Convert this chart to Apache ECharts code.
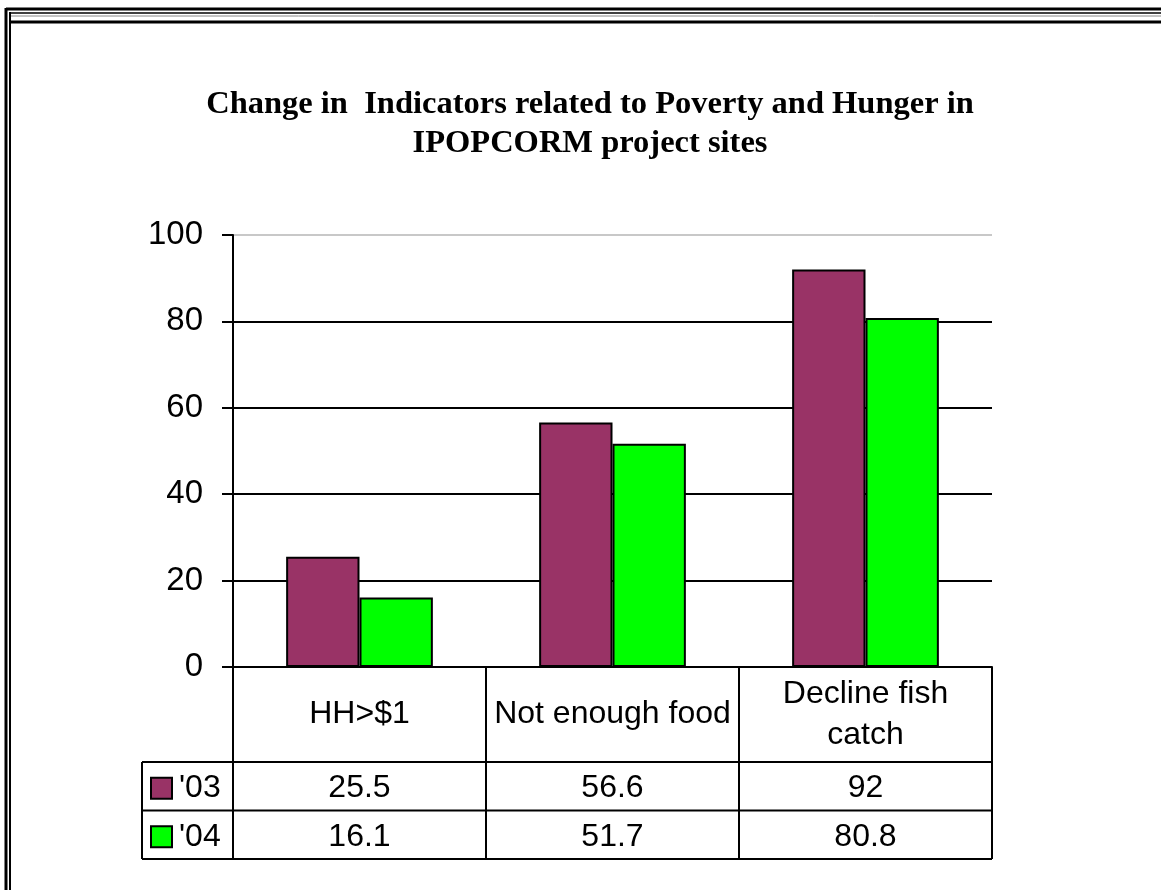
<!DOCTYPE html>
<html>
<head>
<meta charset="utf-8">
<script src="https://cdn.jsdelivr.net/npm/echarts@6/dist/echarts.min.js"></script>
<style>
html, body { margin: 0; padding: 0; background: #fff; }
#chart { width: 1161px; height: 890px; }
</style>
</head>
<body>
<div id="chart"></div>
<script>
// data
const categories = ['HH>$1', 'Not enough food', 'Decline fish\ncatch'];
const seriesNames = ["'03", "'04"];
const values03 = [25.5, 56.6, 92];
const values04 = [16.1, 51.7, 80.8];
const seriesColors = ['#993366', '#00ff00'];
const titleText = 'Change in  Indicators related to Poverty and Hunger in\nIPOPCORM project sites';

// layout
const gridLeft = 233, gridRight = 992, gridTop = 235, axisY = 667;
const headBottom = 762, rowH = 48.5, tableLeft = 142;
const sansFont = '"Liberation Sans", Arial, sans-serif';

const chart = echarts.init(document.getElementById('chart'));

const option = {
    backgroundColor: '#fff',
    animation: false,
    title: {
        text: titleText,
        left: 585,
        top: 80,
        textAlign: 'center',
        textStyle: {
            fontFamily: '"Liberation Serif", "Times New Roman", serif',
            fontWeight: 'bold',
            fontSize: 32.5,
            lineHeight: 39,
            color: '#000',
        },
    },
    grid: {
        left: gridLeft,
        right: 1161 - gridRight,
        top: gridTop,
        bottom: 890 - axisY,
        containLabel: false,
    },
    xAxis: {
        type: 'category',
        data: categories,
        axisLine: { lineStyle: { color: '#000', width: 2 } },
        axisTick: { show: true, length: 192, lineStyle: { color: '#000', width: 2 } },
        axisLabel: { show: false },
    },
    yAxis: {
        type: 'value',
        min: 0,
        max: 100,
        interval: 20,
        axisLine: { show: true, lineStyle: { color: '#000', width: 2 } },
        axisTick: { show: true, length: 11, lineStyle: { color: '#000', width: 2 } },
        axisLabel: { color: '#000', fontSize: 33, fontFamily: sansFont, margin: 30 },
        splitLine: {
            show: true,
            lineStyle: {
                color: ['#000', '#000', '#000', '#000', '#000', '#c8c8c8'],
                width: 2,
            },
        },
    },
    series: [
        {
            name: seriesNames[0],
            type: 'bar',
            data: values03,
            barGap: '0%',
            barCategoryGap: '42%',
            itemStyle: { color: seriesColors[0], borderColor: '#000', borderWidth: 2 },
        },
        {
            name: seriesNames[1],
            type: 'bar',
            data: values04,
            itemStyle: { color: seriesColors[1], borderColor: '#000', borderWidth: 2 },
        },
    ],
};

chart.setOption(option);

// data table + frame drawn as graphic, positioned from the category axis
function buildGraphic() {
    const els = [];
    const line = (x1, y1, x2, y2, w, c) => els.push({
        type: 'line',
        shape: { x1, y1, x2, y2 },
        style: { stroke: c || '#000', lineWidth: w },
        silent: true,
    });
    const text = (x, y, t, align) => els.push({
        type: 'text',
        x, y,
        style: {
            text: t,
            font: '32px ' + sansFont,
            fill: '#000',
            align: align || 'center',
            textAlign: align || 'center',
            verticalAlign: 'middle',
            textVerticalAlign: 'middle',
            lineHeight: 41,
        },
        silent: true,
    });

    // frame
    line(6, 9, 1161, 9, 3);
    line(6, 8, 6, 890, 3);
    line(10, 13, 1161, 13, 1.5);
    line(10, 12, 10, 890, 2);
    line(11, 16, 1161, 16, 1, '#888');
    line(11, 22, 1161, 22, 3);

    // table horizontal rules
    const rows = [values03, values04];
    for (let r = 0; r <= rows.length; r++) {
        const y = headBottom + r * rowH;
        line(tableLeft, y, gridRight, y, 2);
    }
    line(tableLeft, headBottom, tableLeft, headBottom + rows.length * rowH, 2);

    // category header and values
    categories.forEach((c, i) => {
        const cx = chart.convertToPixel({ xAxisIndex: 0 }, i);
        text(cx, (axisY + headBottom) / 2, c);
        rows.forEach((vals, r) => {
            text(cx, headBottom + r * rowH + rowH / 2 + 2, String(vals[i]));
        });
    });

    // legend keys
    rows.forEach((vals, r) => {
        const cy = headBottom + r * rowH + rowH / 2 + 2;
        els.push({
            type: 'rect',
            shape: { x: 151, y: cy - 10.5, width: 21, height: 21 },
            style: { fill: seriesColors[r], stroke: '#000', lineWidth: 2 },
            silent: true,
        });
        text(179, cy, seriesNames[r], 'left');
    });
    return els;
}

chart.setOption({ graphic: { elements: buildGraphic() } });
</script>
</body>
</html>
